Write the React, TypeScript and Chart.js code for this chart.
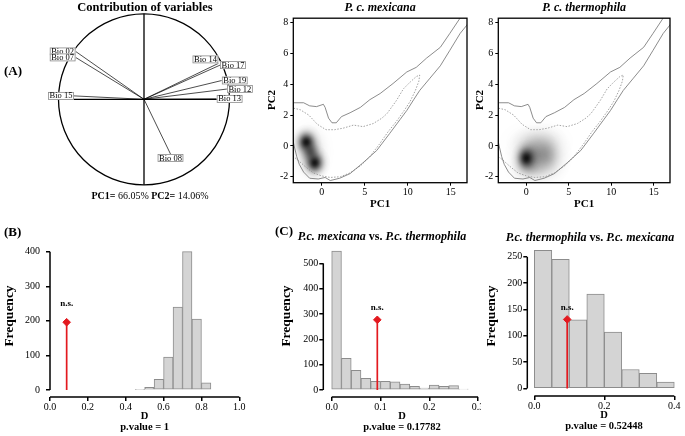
import React, { useEffect, useRef } from 'react';
import { Chart, registerables } from 'chart.js';

Chart.register(...registerables);

const SERIF = '"Liberation Serif", "Times New Roman", serif';
const fnt = (size: number, weight = 'normal', style = 'normal') => `${style} ${weight} ${size}px ${SERIF}`;
const RED = '#e3191f';

// ---------------- (A) correlation circle ----------------
const VAR_NAMES = ['Bio 02', 'Bio 07', 'Bio 15', 'Bio 14', 'Bio 17', 'Bio 19', 'Bio 12', 'Bio 13', 'Bio 08'];
const VAR_PC1 = [-0.80, -0.80, -0.82, 0.87, 0.89, 0.91, 0.97, 0.85, 0.31];
const VAR_PC2 = [0.56, 0.49, 0.04, 0.42, 0.40, 0.22, 0.12, 0.005, -0.64];
const PC1_EXPLAINED = '66.05%';
const PC2_EXPLAINED = '14.06%';
const LABEL_ABOVE_LEFT = ['Bio 14'];

// ---------------- (A) niche density plots ----------------
const PC1_TICKS = [0, 5, 10, 15];
const PC2_TICKS = [-2, 0, 2, 4, 6, 8];
const PC1_RANGE = [-3.3, 16.9];
const PC2_RANGE = [-2.39, 8.29];

const ENV_OUTER_X = [-3.6, -3.3, -2.1, -1.4, -0.6, 0.2, 0.4, 0.8, 1.2, 1.7, 2.3, 3.3, 4.5, 5.6, 6.8, 8.3, 9.9, 11.0, 12.2, 13.8, 14.9, 16.1, 16.6,
  17.4, 16.9, 16.1, 14.9, 13.8, 12.6, 11.4, 10.7, 9.9, 9.1, 7.9, 6.4, 4.8, 3.3, 2.1, 1.0, 0.4, -0.4, -1.4, -2.1, -2.6, -2.9, -3.2, -3.5];
const ENV_OUTER_Y = [2.8, 2.8, 2.8, 2.6, 2.55, 2.7, 2.5, 1.8, 1.5, 1.5, 1.9, 2.15, 2.5, 3.0, 3.4, 4.05, 4.8, 5.1, 5.7, 6.4, 7.3, 8.3, 8.9,
  8.4, 7.85, 7.3, 6.2, 5.2, 4.4, 3.6, 3.0, 2.3, 1.7, 0.8, -0.3, -1.1, -1.8, -2.1, -2.25, -2.05, -2.15, -2.1, -1.7, -1.2, -0.7, 0.0, 0.8];
const ENV_INNER_X = [-3.6, -3.3, -2.5, -1.5, -0.5, 0.5, 1.5, 2.5, 3.7, 4.8, 6.0, 7.0, 7.6, 8.7, 9.5, 10.3, 11.0, 11.4,
  11.3, 10.9, 10.3, 9.6, 8.7, 7.7, 6.7, 5.6, 4.5, 3.3, 2.2, 1.0, 0.0, -1.0, -2.0, -2.8, -3.3, -3.6];
const ENV_INNER_Y = [2.5, 2.45, 2.35, 2.0, 1.4, 1.05, 1.05, 1.15, 1.35, 1.25, 1.45, 1.8, 2.1, 2.95, 3.7, 4.15, 4.5, 4.6,
  4.2, 3.6, 2.9, 2.3, 1.6, 0.9, 0.1, -0.7, -1.3, -1.75, -2.0, -2.05, -1.95, -1.75, -1.3, -0.9, -0.7, -0.5];

// occurrence density kernels (centre, spread, weight)
const MEX_DENS_X = [-1.8, -1.3, -0.8, -1.3];
const MEX_DENS_Y = [0.25, -0.4, -1.1, -0.4];
const MEX_DENS_SX = [0.6, 0.55, 0.6, 0.9];
const MEX_DENS_SY = [0.38, 0.35, 0.38, 0.75];
const MEX_DENS_W = [0.9, 0.5, 0.9, 0.2];

const THE_DENS_X = [0.0, 0.7, 2.4, 1.2, 0.5];
const THE_DENS_Y = [-0.8, -0.6, -0.6, 0.3, -1.5];
const THE_DENS_SX = [0.6, 1.1, 1.0, 1.5, 1.1];
const THE_DENS_SY = [0.4, 0.65, 0.7, 0.5, 0.4];
const THE_DENS_W = [0.9, 0.35, 0.32, 0.1, 0.15];

// ---------------- (B) equivalency test ----------------
const B_BIN_LEFT = [0.45, 0.50, 0.55, 0.60, 0.65, 0.70, 0.75, 0.80];
const B_COUNTS = [2, 8, 31, 95, 240, 400, 205, 21];
const B_BIN_WIDTH = 0.05;
const B_OBS_D = 0.088;
const B_OBS_Y = 196;
const B_PVALUE = '1';
const B_X_TICKS = [0, 0.2, 0.4, 0.6, 0.8, 1.0];
const B_Y_TICKS = [0, 100, 200, 300, 400];

// ---------------- (C) similarity tests ----------------
const C1_BIN_LEFT = [0, 0.02, 0.04, 0.06, 0.08, 0.10, 0.12, 0.14, 0.16, 0.18, 0.20, 0.22, 0.24, 0.26];
const C1_COUNTS = [548, 125, 78, 46, 34, 34, 32, 23, 15, 8, 19, 15, 17, 4];
const C1_BIN_WIDTH = 0.02;
const C1_OBS_D = 0.0935;
const C1_OBS_Y = 277;
const C1_PVALUE = '0.17782';
const C1_X_TICKS = [0, 0.1, 0.2, 0.3];
const C1_Y_TICKS = [0, 100, 200, 300, 400, 500];

const C2_BIN_LEFT = [0, 0.05, 0.10, 0.15, 0.20, 0.25, 0.30, 0.35];
const C2_COUNTS = [262, 245, 130, 179, 107, 36, 29, 12];
const C2_BIN_WIDTH = 0.05;
const C2_OBS_D = 0.094;
const C2_OBS_Y = 131;
const C2_PVALUE = '0.52448';
const C2_X_TICKS = [0, 0.2, 0.4];
const C2_Y_TICKS = [0, 50, 100, 150, 200, 250];

// ---------------- layout ----------------
type Box = { left: number; top: number; w: number; h: number };
type Area = { l: number; t: number; r: number; b: number };
type Seg = { text: string; font: string; color?: string };
type TextItem = { x: number; y: number; segs: Seg[]; align?: 'left' | 'center' | 'right'; rot?: number };

const BOX_CIRCLE: Box = { left: 0, top: 0, w: 262, h: 215 };
const AREA_CIRCLE: Area = { l: 58.5, t: 13.8, r: 229.5, b: 184.8 };
const BOX_MEX: Box = { left: 262, top: 0, w: 210, h: 215 };
const AREA_MEX: Area = { l: 293.3, t: 18.2, r: 467, b: 182.7 };
const BOX_THE: Box = { left: 472, top: 0, w: 213, h: 215 };
const AREA_THE: Area = { l: 498.3, t: 18.2, r: 670, b: 182.7 };
const BOX_B: Box = { left: 0, top: 215, w: 262, h: 221 };
const AREA_B: Area = { l: 50, t: 244.7, r: 239.3, b: 397 };
const BOX_C1: Box = { left: 262, top: 215, w: 219, h: 221 };
const AREA_C1: Area = { l: 323.3, t: 244.1, r: 480.5, b: 397 };
const BOX_C2: Box = { left: 481, top: 215, w: 204, h: 221 };
const AREA_C2: Area = { l: 527.3, t: 242.8, r: 681, b: 396 };

const one = (text: string, font: string): Seg[] => [{ text, font }];

function textPlugin(items: TextItem[], box: Box) {
  return {
    id: 'pageTexts',
    afterDraw(chart: any) {
      const ctx = chart.ctx as CanvasRenderingContext2D;
      for (const it of items) {
        ctx.save();
        ctx.translate(it.x - box.left, it.y - box.top);
        if (it.rot) ctx.rotate(it.rot);
        ctx.textBaseline = 'middle';
        ctx.textAlign = 'left';
        const ws = it.segs.map((s) => { ctx.font = s.font; return ctx.measureText(s.text).width; });
        const total = ws.reduce((a, b) => a + b, 0);
        let cx = it.align === 'left' ? 0 : it.align === 'right' ? -total : -total / 2;
        it.segs.forEach((s, i) => {
          ctx.font = s.font;
          ctx.fillStyle = s.color || '#000';
          ctx.fillText(s.text, cx, 0);
          cx += ws[i];
        });
        ctx.restore();
      }
    },
  };
}

const baseOptions = (box: Box, area: Area, yW: number, xH: number) => ({
  responsive: false,
  animation: false,
  devicePixelRatio: 1,
  events: [],
  layout: {
    autoPadding: false,
    padding: {
      left: area.l - box.left - yW,
      top: area.t - box.top,
      right: box.left + box.w - area.r,
      bottom: box.top + box.h - area.b - xH,
    },
  },
  plugins: { legend: { display: false }, tooltip: { enabled: false }, title: { display: false } },
});

function axisX(min: number, max: number, ticks: number[], xH: number, tickLen: number, lw: number, pad: number, cb?: (v: number) => string) {
  return {
    type: 'linear', min, max, offset: false,
    afterBuildTicks: (s: any) => { s.ticks = ticks.map((v) => ({ value: v })); },
    afterFit: (s: any) => { s.height = xH; s.paddingLeft = 0; s.paddingRight = 0; },
    grid: { display: true, offset: false, drawOnChartArea: false, drawTicks: true, tickLength: tickLen, color: '#000', lineWidth: lw },
    border: { display: false },
    ticks: { color: '#000', font: { family: SERIF, size: 10 }, padding: pad, autoSkip: false, maxRotation: 0, minRotation: 0, callback: cb || ((v: any) => String(v)) },
  };
}
function axisY(min: number, max: number, ticks: number[], yW: number, tickLen: number, lw: number, pad: number) {
  return {
    type: 'linear', min, max,
    afterBuildTicks: (s: any) => { s.ticks = ticks.map((v) => ({ value: v })); },
    afterFit: (s: any) => { s.width = yW; s.paddingTop = 0; s.paddingBottom = 0; },
    grid: { display: true, drawOnChartArea: false, drawTicks: true, tickLength: tickLen, color: '#000', lineWidth: lw },
    border: { display: false },
    ticks: { color: '#000', font: { family: SERIF, size: 10 }, padding: pad, autoSkip: false, callback: (v: any) => String(v) },
  };
}

// ---------------- (A) circle ----------------
function makeCircle(box: Box) {
  const area = AREA_CIRCLE;
  const circlePlugin = {
    id: 'corCircle',
    beforeDatasetsDraw(chart: any) {
      const { ctx, scales: { x, y } } = chart;
      const cx = x.getPixelForValue(0), cy = y.getPixelForValue(0);
      const r = x.getPixelForValue(1) - cx;
      ctx.save();
      ctx.strokeStyle = '#000';
      ctx.lineWidth = 1.3;
      ctx.beginPath(); ctx.arc(cx, cy, r, 0, Math.PI * 2); ctx.stroke();
      ctx.beginPath();
      ctx.moveTo(cx - r, cy); ctx.lineTo(cx + r, cy);
      ctx.moveTo(cx, cy - r); ctx.lineTo(cx, cy + r);
      ctx.stroke();
      ctx.restore();
    },
    afterDatasetsDraw(chart: any) {
      const { ctx, scales: { x, y } } = chart;
      ctx.save();
      ctx.font = fnt(8.5);
      ctx.textBaseline = 'middle';
      ctx.textAlign = 'left';
      VAR_NAMES.forEach((name, i) => {
        const px = x.getPixelForValue(VAR_PC1[i]);
        const py = y.getPixelForValue(VAR_PC2[i]);
        const tw = ctx.measureText(name).width;
        const bw = tw + 3, bh = 8;
        let bx: number, by: number;
        if (LABEL_ABOVE_LEFT.includes(name)) { bx = px - bw; by = py - bh; }
        else if (VAR_PC2[i] < -0.4) { bx = px - bw / 2; by = py; }
        else if (VAR_PC1[i] < 0) { bx = px - bw; by = py - bh / 2; }
        else { bx = px; by = py - bh / 2; }
        ctx.fillStyle = '#fff';
        ctx.fillRect(bx, by, bw, bh);
        ctx.strokeStyle = '#8a8a8a';
        ctx.lineWidth = 0.8;
        ctx.strokeRect(bx + 0.5, by + 0.5, bw - 1, bh - 1);
        ctx.fillStyle = '#000';
        ctx.fillText(name, bx + 1.5, by + bh / 2 + 0.3);
      });
      ctx.restore();
    },
  };
  const texts: TextItem[] = [
    { x: 145, y: 8, segs: one('Contribution of variables', fnt(12.5, 'bold')) },
    { x: 4, y: 72, segs: one('(A)', fnt(13, 'bold')), align: 'left' },
    {
      x: 150, y: 196, segs: [
        { text: 'PC1=', font: fnt(10, 'bold') },
        { text: ` ${PC1_EXPLAINED} `, font: fnt(10) },
        { text: 'PC2=', font: fnt(10, 'bold') },
        { text: ` ${PC2_EXPLAINED}`, font: fnt(10) },
      ],
    },
  ];
  return {
    type: 'scatter',
    data: {
      datasets: VAR_NAMES.map((name, i) => ({
        label: name,
        data: [{ x: 0, y: 0 }, { x: VAR_PC1[i], y: VAR_PC2[i] }],
        showLine: true, borderColor: '#000', borderWidth: 0.7, pointRadius: 0, clip: false,
      })),
    },
    options: {
      ...baseOptions(box, area, 0, 0),
      scales: {
        x: { type: 'linear', min: -1, max: 1, display: false },
        y: { type: 'linear', min: -1, max: 1, display: false },
      },
    },
    plugins: [circlePlugin, textPlugin(texts, box)],
  };
}

// ---------------- (A) density ----------------
function makeDensity(box: Box, area: Area, title: string, kx: number[], ky: number[], ksx: number[], ksy: number[], kw: number[]) {
  const yW = area.l - box.left;
  const xH = box.top + box.h - area.b;
  const densPlugin = {
    id: 'density',
    beforeDatasetsDraw(chart: any) {
      const { ctx, chartArea: a, scales: { x, y } } = chart;
      ctx.save();
      ctx.beginPath(); ctx.rect(a.left, a.top, a.right - a.left, a.bottom - a.top); ctx.clip();
      for (let i = 0; i < kx.length; i++) {
        const cx = x.getPixelForValue(kx[i]), cy = y.getPixelForValue(ky[i]);
        const rx = Math.abs(x.getPixelForValue(kx[i] + ksx[i]) - cx);
        const ry = Math.abs(y.getPixelForValue(ky[i] + ksy[i]) - cy);
        ctx.save();
        ctx.translate(cx, cy);
        ctx.scale(rx, ry);
        const g = ctx.createRadialGradient(0, 0, 0, 0, 0, 3);
        for (let s = 0; s <= 12; s++) {
          const r = s / 4;
          g.addColorStop(r / 3, `rgba(0,0,0,${(kw[i] * Math.exp(-r * r / 2)).toFixed(4)})`);
        }
        ctx.fillStyle = g;
        ctx.beginPath(); ctx.arc(0, 0, 3, 0, Math.PI * 2); ctx.fill();
        ctx.restore();
      }
      ctx.restore();
    },
    afterDraw(chart: any) {
      const { ctx, chartArea: a } = chart;
      ctx.save();
      ctx.strokeStyle = '#000';
      ctx.lineWidth = 1.3;
      ctx.strokeRect(a.left, a.top, a.right - a.left, a.bottom - a.top);
      ctx.restore();
    },
  };
  const cxm = (area.l + area.r) / 2;
  const texts: TextItem[] = [
    { x: cxm, y: 8, segs: one(title, fnt(12, 'bold', 'italic')) },
    { x: box.left + (box.left === 262 ? 10 : 8), y: 100, segs: one('PC2', fnt(11, 'bold')), rot: -Math.PI / 2 },
    { x: cxm, y: 204, segs: one('PC1', fnt(11, 'bold')) },
  ];
  return {
    type: 'scatter',
    data: {
      datasets: [
        { label: 'environment (outer)', data: ENV_OUTER_X.map((x, i) => ({ x, y: ENV_OUTER_Y[i] })), showLine: true, borderColor: '#6f6f6f', borderWidth: 0.8, pointRadius: 0 },
        { label: 'environment (inner)', data: ENV_INNER_X.map((x, i) => ({ x, y: ENV_INNER_Y[i] })), showLine: true, borderColor: '#8c8c8c', borderWidth: 0.8, borderDash: [1.5, 1.5], pointRadius: 0 },
      ],
    },
    options: {
      ...baseOptions(box, area, yW, xH),
      scales: {
        x: axisX(PC1_RANGE[0], PC1_RANGE[1], PC1_TICKS, xH, 3, 1, 1),
        y: axisY(PC2_RANGE[0], PC2_RANGE[1], PC2_TICKS, yW, 3, 1, 2),
      },
    },
    plugins: [densPlugin, textPlugin(texts, box)],
  };
}

// ---------------- histograms ----------------
type HistSpec = {
  area: Area; xRange: number[]; yRange: number[]; bins: number[]; counts: number[]; width: number;
  obsD: number; obsY: number; xTicks: number[]; yTicks: number[]; texts: TextItem[]; nsGap: number; yPad: number;
};
function makeHist(box: Box, spec: HistSpec) {
  const { area } = spec;
  const yW = area.l - box.left;
  const xH = box.top + box.h - area.b;
  const rAxes = {
    id: 'rAxes',
    afterDraw(chart: any) {
      const { ctx, chartArea: a, scales: { x, y } } = chart;
      ctx.save();
      ctx.strokeStyle = '#000';
      ctx.lineWidth = 1.5;
      ctx.beginPath();
      ctx.moveTo(a.left, y.getPixelForValue(spec.yTicks[0]));
      ctx.lineTo(a.left, y.getPixelForValue(spec.yTicks[spec.yTicks.length - 1]));
      ctx.moveTo(x.getPixelForValue(spec.xTicks[0]), a.bottom);
      ctx.lineTo(x.getPixelForValue(spec.xTicks[spec.xTicks.length - 1]), a.bottom);
      ctx.stroke();
      const px = x.getPixelForValue(spec.obsD);
      const py = y.getPixelForValue(spec.obsY);
      ctx.font = fnt(9, 'bold');
      ctx.fillStyle = '#000';
      ctx.textAlign = 'center';
      ctx.textBaseline = 'middle';
      ctx.fillText('n.s.', px, py - spec.nsGap);
      ctx.restore();
    },
  };
  return {
    type: 'bar',
    data: {
      datasets: [
        {
          type: 'line', label: 'observed D', order: 0,
          data: [{ x: spec.obsD, y: 0 }, { x: spec.obsD, y: spec.obsY }],
          borderColor: RED, borderWidth: 1.7, pointRadius: [0, 3.8], pointHoverRadius: 0, pointStyle: 'rectRot',
          pointBackgroundColor: RED, pointBorderColor: RED, pointBorderWidth: 1, fill: false, clip: false,
        },
        {
          type: 'bar', label: 'null distribution', order: 1,
          data: spec.bins.map((b, i) => ({ x: b + spec.width / 2, y: spec.counts[i] })),
          backgroundColor: '#d4d4d4', borderColor: '#8c8c8c', borderWidth: 1, borderSkipped: false,
          barPercentage: 1, categoryPercentage: 1,
        },
      ],
    },
    options: {
      ...baseOptions(box, area, yW, xH),
      scales: {
        x: axisX(spec.xRange[0], spec.xRange[1], spec.xTicks, xH, 4, 1.5, 0, (v: number) => Number(v).toFixed(1)),
        y: axisY(spec.yRange[0], spec.yRange[1], spec.yTicks, yW, 4, 1.5, spec.yPad),
      },
    },
    plugins: [rAxes, textPlugin(spec.texts, box)],
  };
}

const bi = (size: number) => fnt(size, 'bold', 'italic');
const bd = (size: number) => fnt(size, 'bold');

const HIST_B: HistSpec = {
  area: AREA_B, xRange: [0, 1], yRange: [-20.2, 420.2], bins: B_BIN_LEFT, counts: B_COUNTS, width: B_BIN_WIDTH,
  obsD: B_OBS_D, obsY: B_OBS_Y, xTicks: B_X_TICKS, yTicks: B_Y_TICKS, nsGap: 19, yPad: 6,
  texts: [
    { x: 4, y: 233, segs: one('(B)', bd(13)), align: 'left' },
    { x: 10, y: 316, segs: one('Frequency', bd(13.5)), rot: -Math.PI / 2 },
    { x: 144.6, y: 416, segs: one('D', bd(10.5)) },
    { x: 144.6, y: 427, segs: one(`p.value = ${B_PVALUE}`, bd(10.5)) },
  ],
};
const HIST_C1: HistSpec = {
  area: AREA_C1, xRange: [-0.0172, 0.305], yRange: [-27.6, 575.8], bins: C1_BIN_LEFT, counts: C1_COUNTS, width: C1_BIN_WIDTH,
  obsD: C1_OBS_D, obsY: C1_OBS_Y, xTicks: C1_X_TICKS, yTicks: C1_Y_TICKS, nsGap: 12, yPad: 1,
  texts: [
    { x: 275, y: 232, segs: one('(C)', bd(13)), align: 'left' },
    { x: 382, y: 237, segs: [
      { text: 'P.c. mexicana', font: bi(12) }, { text: ' vs. ', font: bd(12) }, { text: 'P.c. thermophila', font: bi(12) },
    ] },
    { x: 287, y: 316, segs: one('Frequency', bd(13.5)), rot: -Math.PI / 2 },
    { x: 402, y: 416, segs: one('D', bd(10.5)) },
    { x: 402, y: 427, segs: one(`p.value = ${C1_PVALUE}`, bd(10.5)) },
  ],
};
const HIST_C2: HistSpec = {
  area: AREA_C2, xRange: [-0.02, 0.4192], yRange: [-14.2, 276.3], bins: C2_BIN_LEFT, counts: C2_COUNTS, width: C2_BIN_WIDTH,
  obsD: C2_OBS_D, obsY: C2_OBS_Y, xTicks: C2_X_TICKS, yTicks: C2_Y_TICKS, nsGap: 12, yPad: 1,
  texts: [
    { x: 590, y: 238, segs: [
      { text: 'P.c. thermophila', font: bi(12) }, { text: ' vs. ', font: bd(12) }, { text: 'P.c. mexicana', font: bi(12) },
    ] },
    { x: 492, y: 316, segs: one('Frequency', bd(13.5)), rot: -Math.PI / 2 },
    { x: 604, y: 415, segs: one('D', bd(10.5)) },
    { x: 604, y: 426.5, segs: one(`p.value = ${C2_PVALUE}`, bd(10.5)) },
  ],
};

function ChartPanel({ box, make }: { box: Box; make: (b: Box) => any }) {
  const ref = useRef<HTMLCanvasElement>(null);
  useEffect(() => {
    const chart = new Chart(ref.current as HTMLCanvasElement, make(box));
    return () => chart.destroy();
  }, []);
  return (
    <canvas
      ref={ref}
      width={box.w}
      height={box.h}
      style={{ position: 'absolute', left: box.left, top: box.top, width: box.w, height: box.h }}
    />
  );
}

export default function App() {
  return (
    <div style={{ position: 'absolute', left: 0, top: 0, width: 685, height: 436, background: '#fff', overflow: 'hidden' }}>
      <ChartPanel box={BOX_CIRCLE} make={makeCircle} />
      <ChartPanel box={BOX_MEX} make={(b) => makeDensity(b, AREA_MEX, 'P. c. mexicana', MEX_DENS_X, MEX_DENS_Y, MEX_DENS_SX, MEX_DENS_SY, MEX_DENS_W)} />
      <ChartPanel box={BOX_THE} make={(b) => makeDensity(b, AREA_THE, 'P. c. thermophila', THE_DENS_X, THE_DENS_Y, THE_DENS_SX, THE_DENS_SY, THE_DENS_W)} />
      <ChartPanel box={BOX_B} make={(b) => makeHist(b, HIST_B)} />
      <ChartPanel box={BOX_C1} make={(b) => makeHist(b, HIST_C1)} />
      <ChartPanel box={BOX_C2} make={(b) => makeHist(b, HIST_C2)} />
    </div>
  );
}
